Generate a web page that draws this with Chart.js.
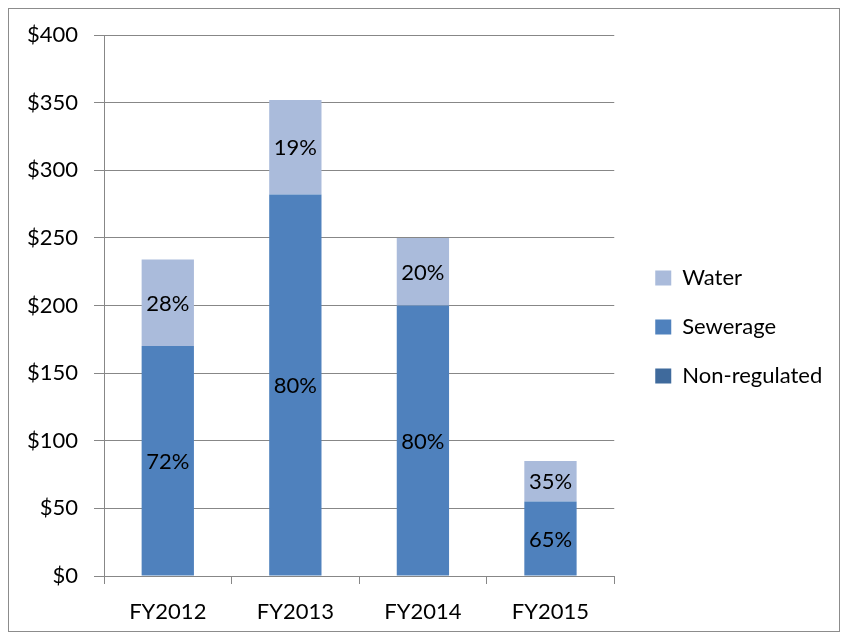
<!DOCTYPE html>
<html>
<head>
<meta charset="utf-8">
<script src="https://cdn.jsdelivr.net/npm/chart.js@4"></script>
<style>
  body { margin: 0; background: #fff; }
  #frame { position: absolute; left: 8px; top: 8px; width: 830px; height: 622px; border: 1px solid #8c8c8c; }
</style>
</head>
<body>
<div id="frame"><canvas id="chart" width="830" height="622"></canvas></div>
<script>
// Данные
const categories = ['FY2012', 'FY2013', 'FY2014', 'FY2015'];
const nonRegulated = [0, 0, 0, 0];
const sewerage = [170, 282, 200, 55];
const water = [64, 70, 50, 30];
const sewerageLabels = ['72%', '80%', '80%', '65%'];
const waterLabels = ['28%', '19%', '20%', '35%'];
const yMax = 400;
const yStep = 50;

const FONT = 'Lato';
const GRID = '#878787';

// Подписи процентов в центре сегментов
const pctLabels = {
    id: 'pctLabels',
    afterDatasetsDraw(chart) {
        const ctx = chart.ctx;
        ctx.save();
        ctx.font = '22px ' + FONT;
        ctx.fillStyle = '#000';
        ctx.textAlign = 'center';
        ctx.textBaseline = 'middle';
        chart.data.datasets.forEach((ds, i) => {
            if (!ds.pctLabels) return;
            chart.getDatasetMeta(i).data.forEach((bar, j) => {
                ctx.fillText(ds.pctLabels[j], bar.x, (bar.y + bar.base) / 2 + 1);
            });
        });
        ctx.restore();
    }
};

// Сдвиг легенды вправо от области графика
const legendShift = {
    id: 'legendShift',
    afterLayout(chart) {
        const lg = chart.legend;
        lg.left += 14;
        lg.right += 14;
        lg.top -= 6;
        lg.bottom -= 6;
    }
};

const ctx = document.getElementById('chart').getContext('2d');
const chart = new Chart(ctx, {
    type: 'bar',
    data: {
        labels: categories,
        datasets: [
            { label: 'Non-regulated', data: nonRegulated, backgroundColor: '#3F6A9C' },
            { label: 'Sewerage', data: sewerage, backgroundColor: '#4F81BD', pctLabels: sewerageLabels },
            { label: 'Water', data: water, backgroundColor: '#AABBDB', pctLabels: waterLabels }
        ]
    },
    options: {
        responsive: false,
        animation: false,
        layout: { padding: { top: 26, right: 23, bottom: 0, left: 0 } },
        datasets: { bar: { barPercentage: 0.41, categoryPercentage: 1 } },
        scales: {
            x: {
                stacked: true,
                afterFit: s => { s.height = 55; },
                grid: { offset: true, drawOnChartArea: false, drawTicks: true, tickLength: 8, color: GRID },
                border: { color: GRID },
                ticks: { color: '#000', font: { family: FONT, size: 22 }, padding: 15 }
            },
            y: {
                stacked: true,
                min: 0,
                max: yMax,
                afterFit: s => { s.width = 95; s.paddingTop = 0; s.paddingBottom = 0; },
                grid: { color: GRID, tickLength: 10 },
                border: { color: GRID },
                ticks: {
                    stepSize: yStep,
                    color: '#000',
                    font: { family: FONT, size: 22 },
                    padding: 16,
                    callback: v => '$' + v
                }
            }
        },
        plugins: {
            legend: {
                position: 'right',
                reverse: true,
                labels: { boxWidth: 16, boxHeight: 15, padding: 27, color: '#000', font: { family: FONT, size: 22 } }
            },
            tooltip: { enabled: false }
        }
    },
    plugins: [pctLabels, legendShift]
});
</script>
</body>
</html>
